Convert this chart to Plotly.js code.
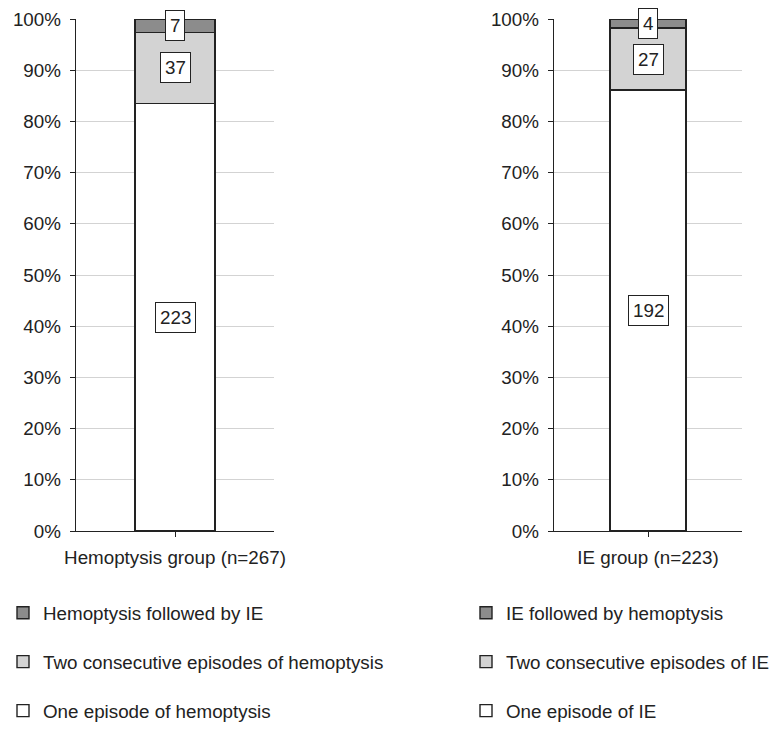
<!DOCTYPE html>
<html>
<head>
<meta charset="utf-8">
<script src="https://cdn.plot.ly/plotly-3.0.1.min.js"></script>
<style>html,body{margin:0;padding:0;background:#fff;}#chart{width:775px;height:730px;}</style>
</head>
<body>
<div id="chart"></div>
<script>
// Data
const leftCategory = ["Hemoptysis group (n=267)"];
const leftSeriesNames = ["One episode of hemoptysis", "Two consecutive episodes of hemoptysis", "Hemoptysis followed by IE"];
const leftCounts = [223, 37, 7];

const rightCategory = ["IE group (n=223)"];
const rightSeriesNames = ["One episode of IE", "Two consecutive episodes of IE", "IE followed by hemoptysis"];
const rightCounts = [192, 27, 4];

const segmentColors = ["#ffffff", "#d3d3d3", "#8c8c8c"];
const yTickVals = [0, 10, 20, 30, 40, 50, 60, 70, 80, 90, 100];

const FONT = "Liberation Sans, Arial, sans-serif";
const INK = "#222222";
const FS = 18.8;

function toPct(counts) {
  const total = counts.reduce((a, b) => a + b, 0);
  return counts.map(c => c / total * 100);
}

const traces = [];
const annotations = [];

function addGroup(category, names, counts, xa, ya, legendId) {
  const pct = toPct(counts);
  let cum = 0;
  pct.forEach((p, i) => {
    traces.push({
      type: "bar",
      x: category,
      y: [p],
      name: names[i],
      xaxis: xa,
      yaxis: ya,
      legend: legendId,
      legendgroup: legendId + "_" + i,
      legendrank: 100 - i,
      width: 0.404,
      marker: { color: segmentColors[i], line: { color: INK, width: 1.4 } },
      hoverinfo: "skip"
    });
    annotations.push({
      xref: xa, yref: ya,
      x: category[0],
      y: cum + p / 2,
      text: String(counts[i]),
      showarrow: false,
      font: { family: FONT, size: FS, color: INK },
      bgcolor: "#ffffff",
      bordercolor: INK,
      borderwidth: 1,
      borderpad: 4
    });
    cum += p;
  });
}

addGroup(leftCategory, leftSeriesNames, leftCounts, "x", "y", "legend");
addGroup(rightCategory, rightSeriesNames, rightCounts, "x2", "y2", "legend2");

const yAxisBase = {
  range: [0, 100],
  tickvals: yTickVals,
  ticktext: yTickVals.map(v => v + "%"),
  ticks: "outside",
  ticklen: 5,
  tickcolor: INK,
  ticklabelstandoff: 5,
  showline: true,
  linecolor: INK,
  linewidth: 1.3,
  showgrid: true,
  gridcolor: "#d3d3d3",
  gridwidth: 1,
  zeroline: false,
  automargin: false,
  tickfont: { family: FONT, size: FS, color: INK },
  fixedrange: true
};
const xAxisBase = {
  ticks: "outside",
  ticklen: 5,
  tickcolor: INK,
  ticklabelstandoff: 4,
  showline: true,
  linecolor: INK,
  linewidth: 1.3,
  showgrid: false,
  automargin: false,
  tickfont: { family: FONT, size: FS, color: INK },
  fixedrange: true
};
const legendBase = {
  orientation: "v",
  traceorder: "grouped",
  tracegroupgap: 21.5,
  font: { family: FONT, size: FS, color: INK },
  bgcolor: "rgba(0,0,0,0)",
  xanchor: "left",
  yanchor: "bottom",
  y: 0,
  itemclick: false,
  itemdoubleclick: false
};

const layout = {
  width: 775,
  height: 730,
  margin: { l: 0, r: 0, t: 0, b: 0 },
  paper_bgcolor: "#ffffff",
  plot_bgcolor: "#ffffff",
  barmode: "stack",
  bargap: 0,
  font: { family: FONT, size: FS, color: INK },
  xaxis: Object.assign({}, xAxisBase, { domain: [76 / 775, 274 / 775], anchor: "y" }),
  yaxis: Object.assign({}, yAxisBase, { domain: [199 / 730, 711 / 730], anchor: "x" }),
  xaxis2: Object.assign({}, xAxisBase, { domain: [554 / 775, 742 / 775], anchor: "y2" }),
  yaxis2: Object.assign({}, yAxisBase, { domain: [199 / 730, 711 / 730], anchor: "x2" }),
  legend: Object.assign({}, legendBase, { x: 3 / 775 }),
  legend2: Object.assign({}, legendBase, { x: 466 / 775 }),
  annotations: annotations,
  showlegend: true
};

Plotly.newPlot("chart", traces, layout, { staticPlot: true, displayModeBar: false });
</script>
</body>
</html>
